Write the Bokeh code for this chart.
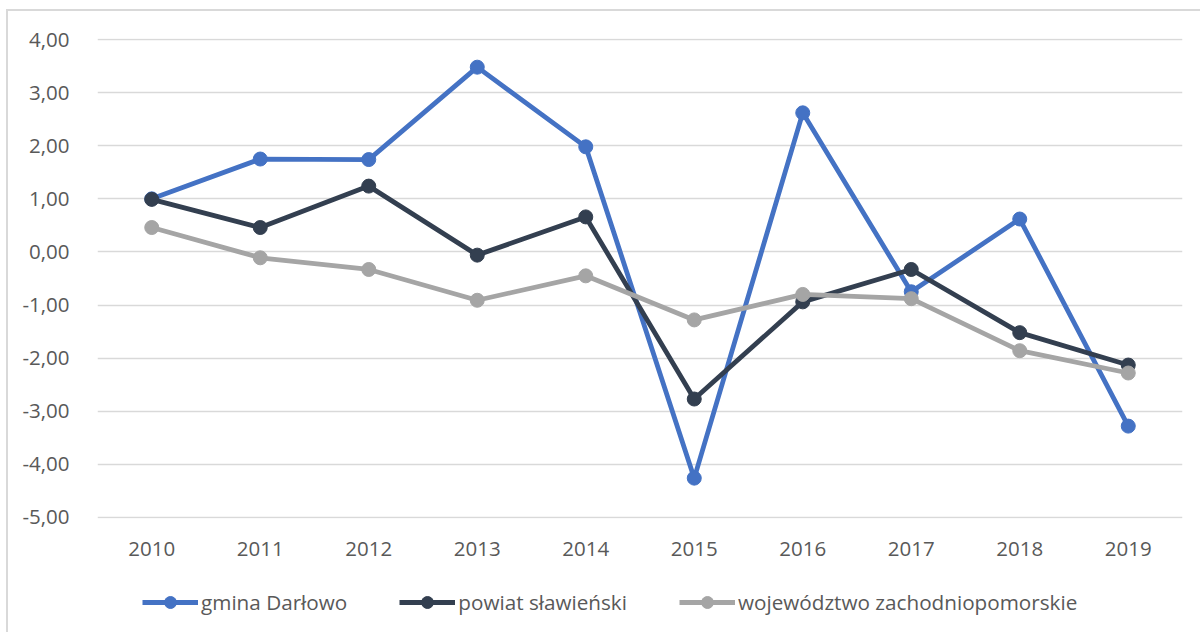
from bokeh.plotting import figure
from bokeh.layouts import column
from bokeh.models import FactorRange, Range1d, FixedTicker, Legend, LegendItem
from bokeh.embed import file_html
from bokeh.resources import INLINE

years = ["2010", "2011", "2012", "2013", "2014", "2015", "2016", "2017", "2018", "2019"]
gmina_darlowo = [1.00, 1.75, 1.74, 3.48, 1.98, -4.26, 2.62, -0.75, 0.62, -3.28]
powiat_slawienski = [0.99, 0.46, 1.24, -0.06, 0.66, -2.77, -0.94, -0.33, -1.52, -2.13]
woj_zachodniopomorskie = [0.46, -0.11, -0.33, -0.91, -0.45, -1.28, -0.80, -0.88, -1.86, -2.28]
series_names = ["gmina Darłowo", "powiat sławieński", "województwo zachodniopomorskie"]
y_ticks = [-5, -4, -3, -2, -1, 0, 1, 2, 3, 4]

colors = ["#4472C4", "#333F50", "#A5A5A5"]
FONT = "Open Sans"
TXT = "#595959"

p = figure(frame_width=1085, frame_height=480, x_range=FactorRange(*years, range_padding=0),
           y_range=Range1d(-5.02, 4.02), output_backend="svg", toolbar_location=None,
           min_border_left=89, min_border_right=18, min_border_top=27, min_border_bottom=50)
p.outline_line_color = None
p.background_fill_color = "white"
p.border_fill_color = "white"

p.xgrid.grid_line_color = None
p.ygrid.grid_line_color = "#D9D9D9"
p.ygrid.grid_line_width = 1.5

p.yaxis.ticker = FixedTicker(ticks=y_ticks)
p.yaxis.major_label_overrides = {t: f"{t:.2f}".replace(".", ",") for t in y_ticks}
for ax in (p.xaxis[0], p.yaxis[0]):
    ax.axis_line_color = None
    ax.major_tick_line_color = None
    ax.minor_tick_line_color = None
    ax.major_label_text_font = FONT
    ax.major_label_text_font_size = "20.5px"
    ax.major_label_text_color = TXT
p.yaxis.major_label_standoff = 22
p.xaxis.major_label_standoff = 17

series = [gmina_darlowo, powiat_slawienski, woj_zachodniopomorskie]
for vals, c in zip(series, colors):
    p.line(years, vals, line_color=c, line_width=4.8, line_join="round")
    p.scatter(years, vals, size=14, fill_color=c, line_color=c)

# legend strip below the plot (its renderers lie outside its visible range)
q = figure(width=1192, height=64, x_range=FactorRange(*years, range_padding=0),
           y_range=Range1d(100, 101),
           output_backend="svg", toolbar_location=None, x_axis_location=None,
           y_axis_location=None, min_border=0)
q.outline_line_color = None
q.grid.visible = False
q.border_fill_color = "white"
items = []
for name, vals, c in zip(series_names, series, colors):
    r1 = q.line(years, vals, line_color=c, line_width=4.8)
    r2 = q.scatter(years, vals, size=14, fill_color=c, line_color=c)
    items.append(LegendItem(label=name, renderers=[r1, r2]))
legend = Legend(items=items, orientation="horizontal", location=(45, 15),
                label_text_font=FONT, label_text_font_size="20.7px", label_text_color=TXT,
                glyph_width=56, glyph_height=30, label_standoff=3, spacing=52,
                padding=5, margin=0, border_line_color=None, background_fill_alpha=0)
q.add_layout(legend)

layout = column(p, q, spacing=0)
layout.styles = {"margin-left": "6px", "margin-top": "9px",
                 "border-left": "2px solid #D9D9D9", "border-top": "2px solid #D9D9D9"}

open("out.html", "w").write(file_html(layout, INLINE))
